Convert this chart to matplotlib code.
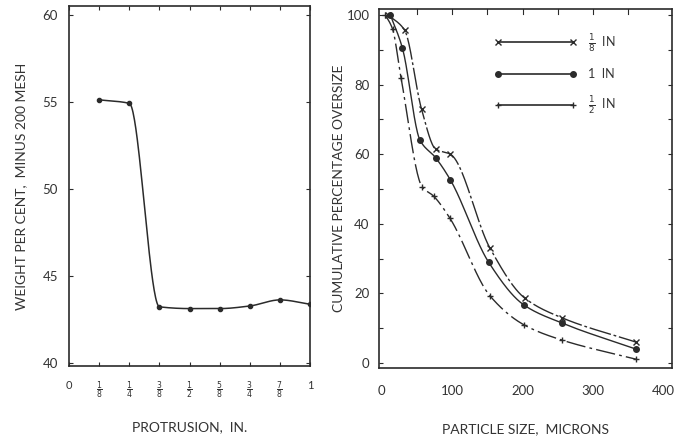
import numpy as np
import matplotlib
matplotlib.use("Agg")
import matplotlib.pyplot as plt
from matplotlib.lines import Line2D

plt.rcParams['font.family'] = ['Lato', 'DejaVu Sans']
plt.rcParams['mathtext.fontset'] = 'dejavusans'

INK = "#2b2b2b"

# --- left panel: protrusion vs weight % minus 200 mesh ---
protrusion = [1/8, 2/8, 3/8, 4/8, 5/8, 6/8, 7/8, 1.0]
weight_pct = [55.1, 54.9, 43.2, 43.1, 43.1, 43.25, 43.6, 43.35]
protrusion_ticks = [0, 1/8, 2/8, 3/8, 4/8, 5/8, 6/8, 7/8, 1]
protrusion_labels = ["0", r"$\frac{1}{8}$", r"$\frac{1}{4}$", r"$\frac{3}{8}$", r"$\frac{1}{2}$",
                     r"$\frac{5}{8}$", r"$\frac{3}{4}$", r"$\frac{7}{8}$", "1"]

# --- right panel: cumulative % oversize vs particle size ---
size_eighth = [10, 33, 57, 77, 98, 154, 203, 256, 361]
over_eighth = [100, 95.7, 73, 61.5, 60, 33, 18.7, 13, 6]
size_one = [13, 30, 55, 77, 98, 152, 202, 256, 361]
over_one = [100, 90.5, 64, 59, 52.6, 29, 16.7, 11.5, 4]
size_half = [6, 16, 28, 58, 74, 97, 154, 202, 256, 361]
over_half = [100, 96, 82, 50.6, 48, 41.7, 19.3, 11, 6.6, 1.1]


def smooth(x, y, n=300):
    """monotone cubic (Fritsch-Carlson) just for drawing a smooth curve"""
    x = np.asarray(x, float)
    y = np.asarray(y, float)
    h = np.diff(x)
    d = np.diff(y) / h
    m = np.zeros_like(y)
    m[0], m[-1] = d[0], d[-1]
    for i in range(1, len(y) - 1):
        if d[i - 1] * d[i] > 0:
            w1 = 2 * h[i] + h[i - 1]
            w2 = h[i] + 2 * h[i - 1]
            m[i] = (w1 + w2) / (w1 / d[i - 1] + w2 / d[i])
    xs = np.linspace(x[0], x[-1], n)
    idx = np.clip(np.searchsorted(x, xs) - 1, 0, len(x) - 2)
    t = (xs - x[idx]) / h[idx]
    h00 = 2 * t**3 - 3 * t**2 + 1
    h10 = t**3 - 2 * t**2 + t
    h01 = -2 * t**3 + 3 * t**2
    h11 = t**3 - t**2
    ys = h00 * y[idx] + h10 * h[idx] * m[idx] + h01 * y[idx + 1] + h11 * h[idx] * m[idx + 1]
    return xs, ys


fig = plt.figure(figsize=(6.77, 4.37), dpi=100)
ax1 = fig.add_axes([0.102, 0.1625, 0.356, 0.824])
ax2 = fig.add_axes([0.560, 0.158, 0.433, 0.821])

for ax in (ax1, ax2):
    for sp in ax.spines.values():
        sp.set_color(INK)
        sp.set_linewidth(1.2)
    ax.tick_params(colors=INK, labelcolor="#333333", direction="in",
                   top=True, right=True, length=3, width=0.8)

# left panel
xs, ys = smooth(protrusion, weight_pct)
ax1.plot(xs, ys, color=INK, lw=1.1)
ax1.plot(protrusion, weight_pct, "o", color=INK, ms=3)
ax1.set_xlim(0, 1.0)
ax1.set_ylim(39.8, 60.5)
ax1.set_yticks([40, 45, 50, 55, 60])
ax1.set_xticks(protrusion_ticks)
ax1.set_xticklabels(protrusion_labels, fontsize=8)
ax1.tick_params(axis="y", labelsize=9.5, pad=8)
ax1.tick_params(axis="x", pad=10)
ax1.set_ylabel("WEIGHT PER CENT,  MINUS 200 MESH", fontsize=10, color="#333333",
               labelpad=11)
ax1.set_xlabel("PROTRUSION,  IN.", fontsize=10, color="#333333", labelpad=14)

# right panel
series = [
    (size_eighth, over_eighth, "x", (0, (16, 2, 2, 2)), r"$\frac{1}{8}$  IN"),
    (size_one, over_one, "o", "-", "1  IN"),
    (size_half, over_half, "+", (0, (14, 3, 2, 3)), r"$\frac{1}{2}$  IN"),
]
handles = []
for sx, sy, mk, ls, lab in series:
    xs, ys = smooth(sx, sy)
    ax2.plot(xs, ys, color=INK, lw=1.0, linestyle=ls)
    ax2.plot(sx, sy, mk, color=INK, ms=4, mew=1.0)
    handles.append(Line2D([], [], color=INK, lw=1.2, linestyle="-", marker=mk,
                          ms=4, mew=1.0, label=lab))

ax2.set_xlim(-3, 412)
ax2.set_ylim(-1.4, 101.7)
ax2.set_xticks([0, 100, 200, 300, 400])
ax2.set_yticks([0, 20, 40, 60, 80, 100])
ax2.set_yticks(np.arange(10, 100, 20), minor=True)
ax2.xaxis.set_ticks_position("bottom")
ax2.tick_params(axis="x", bottom=False, top=False, pad=12, labelsize=9.5)
ax2.tick_params(axis="y", labelsize=9.5, pad=7)
ax2.tick_params(which="minor", direction="in", left=True, right=True, length=3,
                width=0.8, colors=INK)
for xt in range(50, 400, 50):
    ax2.plot([xt, xt], [101.7, 100.3], color=INK, lw=0.8, clip_on=False)
ax2.set_ylabel("CUMULATIVE PERCENTAGE OVERSIZE", fontsize=10, color="#333333",
               labelpad=1)
ax2.set_xlabel("PARTICLE SIZE,  MICRONS", fontsize=10, color="#333333", labelpad=19)

ax2.legend(handles=handles, loc="upper left", bbox_to_anchor=(0.355, 0.968),
           frameon=False, numpoints=2, handlelength=6.6, labelspacing=1.15,
           fontsize=9, labelcolor="#333333", handletextpad=0.9)

fig.savefig("out.png", dpi=100)
